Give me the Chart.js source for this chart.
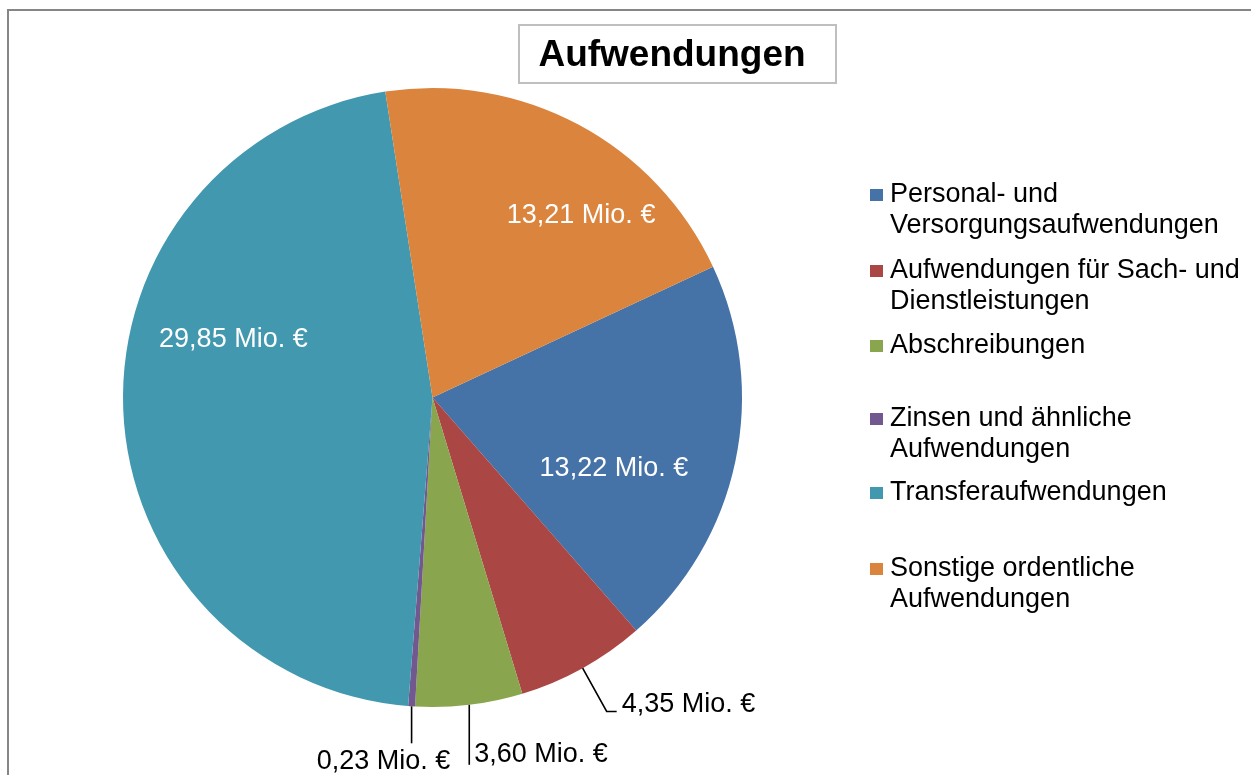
<!DOCTYPE html>
<html lang="de">
<head>
<meta charset="utf-8">
<script src="https://cdn.jsdelivr.net/npm/chart.js@4.4.1/dist/chart.umd.min.js"></script>
<style>
html, body { margin: 0; padding: 0; background: #fff; overflow: hidden; }
#aufwChart { display: block; }
</style>
</head>
<body>
<canvas id="aufwChart" width="1251" height="775"></canvas>
<script>
// Daten
const categories = [
    ['Personal- und', 'Versorgungsaufwendungen'],
    ['Aufwendungen für Sach- und', 'Dienstleistungen'],
    ['Abschreibungen'],
    ['Zinsen und ähnliche', 'Aufwendungen'],
    ['Transferaufwendungen'],
    ['Sonstige ordentliche', 'Aufwendungen']
];
const values = [13.22, 4.35, 3.60, 0.23, 29.85, 13.21];
const sliceColors = ['#4572A7', '#AA4643', '#89A54E', '#71588F', '#4198AF', '#DB843D'];
const titleText = 'Aufwendungen';
const unitText = ' Mio. €';

const FONT = '"Liberation Sans", Arial, Helvetica, sans-serif';

// wo die Beschriftung hin soll (innen / mit Führungslinie)
const labelPlacement = [
    { inside: true, at: 0.63, r: 0.63 },
    { leader: 'elbow' },
    { leader: 'down', len: 60 },
    { leader: 'downLeft', len: 37 },
    { inside: true, at: 0.61, r: 0.67 },
    { inside: true, at: 0.65, r: 0.76 }
];

// Legende rechts (y-Mitte der Markierung je Eintrag)
const legendX = 870;
const legendRowsY = [195, 271, 346, 419, 493, 569];

function fmt(v) {
    return v.toFixed(2).replace('.', ',') + unitText;
}

// Rahmen, Titel, Legende
const framePlugin = {
    id: 'frame',
    beforeDraw(chart) {
        const ctx = chart.ctx;
        ctx.save();
        ctx.fillStyle = '#fff';
        ctx.fillRect(0, 0, chart.width, chart.height);
        ctx.strokeStyle = '#868686';
        ctx.lineWidth = 2;
        ctx.strokeRect(8, 10, 1300, 900);
        ctx.restore();
    },
    afterDraw(chart) {
        const ctx = chart.ctx;
        ctx.save();
        // Titel mit Kasten
        ctx.strokeStyle = '#bfbfbf';
        ctx.lineWidth = 2;
        ctx.strokeRect(519, 25, 317, 58);
        ctx.fillStyle = '#000';
        ctx.font = 'bold 37px ' + FONT;
        ctx.textAlign = 'center';
        ctx.textBaseline = 'middle';
        ctx.fillText(titleText, 672, 56);

        // Legende
        ctx.font = '27px ' + FONT;
        ctx.textAlign = 'left';
        categories.forEach((lines, i) => {
            const y = legendRowsY[i];
            ctx.fillStyle = sliceColors[i];
            ctx.fillRect(legendX, y - 6, 13, 12);
            ctx.fillStyle = '#000';
            lines.forEach((t, j) => {
                ctx.fillText(t, legendX + 20, y + j * 31);
            });
        });
        ctx.restore();
    }
};

// Datenbeschriftungen
const dataLabelPlugin = {
    id: 'dataLabels',
    afterDatasetsDraw(chart) {
        const ctx = chart.ctx;
        const meta = chart.getDatasetMeta(0);
        ctx.save();
        ctx.font = '27px ' + FONT;
        ctx.textBaseline = 'middle';
        meta.data.forEach((arc, i) => {
            const p = arc.getProps(['x', 'y', 'startAngle', 'endAngle', 'outerRadius'], true);
            const pl = labelPlacement[i];
            const txt = fmt(values[i]);
            if (pl.inside) {
                const a = p.startAngle + (p.endAngle - p.startAngle) * pl.at;
                const rr = p.outerRadius * pl.r;
                ctx.fillStyle = '#fff';
                ctx.textAlign = 'center';
                ctx.fillText(txt, p.x + Math.cos(a) * rr, p.y + Math.sin(a) * rr);
                return;
            }
            const mid = (p.startAngle + p.endAngle) / 2;
            const sx = p.x + Math.cos(mid) * p.outerRadius;
            const sy = p.y + Math.sin(mid) * p.outerRadius;
            ctx.strokeStyle = '#000';
            ctx.lineWidth = 1.6;
            ctx.fillStyle = '#000';
            ctx.beginPath();
            ctx.moveTo(sx, sy);
            if (pl.leader === 'elbow') {
                const ex = p.x + Math.cos(mid) * p.outerRadius * 1.16;
                const ey = p.y + Math.sin(mid) * p.outerRadius * 1.16;
                ctx.lineTo(ex, ey);
                ctx.lineTo(ex + 10, ey);
                ctx.stroke();
                ctx.textAlign = 'left';
                ctx.fillText(txt, ex + 15, ey - 7);
            } else if (pl.leader === 'down') {
                ctx.lineTo(sx, sy + pl.len);
                ctx.stroke();
                ctx.textAlign = 'left';
                ctx.fillText(txt, sx + 5, sy + pl.len - 10);
            } else {
                ctx.lineTo(sx, sy + pl.len);
                ctx.stroke();
                ctx.textAlign = 'center';
                ctx.fillText(txt, sx - 28, sy + pl.len + 18);
            }
        });
        ctx.restore();
    }
};

const chartConfig = {
    type: 'pie',
    data: {
        labels: categories,
        datasets: [{
            data: values,
            backgroundColor: sliceColors,
            borderWidth: 0
        }]
    },
    options: {
        responsive: false,
        animation: false,
        rotation: 65,
        layout: {
            padding: { left: 123, top: 88, right: 509, bottom: 68 }
        },
        plugins: {
            legend: { display: false },
            title: { display: false },
            tooltip: { enabled: false }
        }
    },
    plugins: [framePlugin, dataLabelPlugin]
};

const aufwChart = new Chart(document.getElementById('aufwChart'), chartConfig);
</script>
</body>
</html>
